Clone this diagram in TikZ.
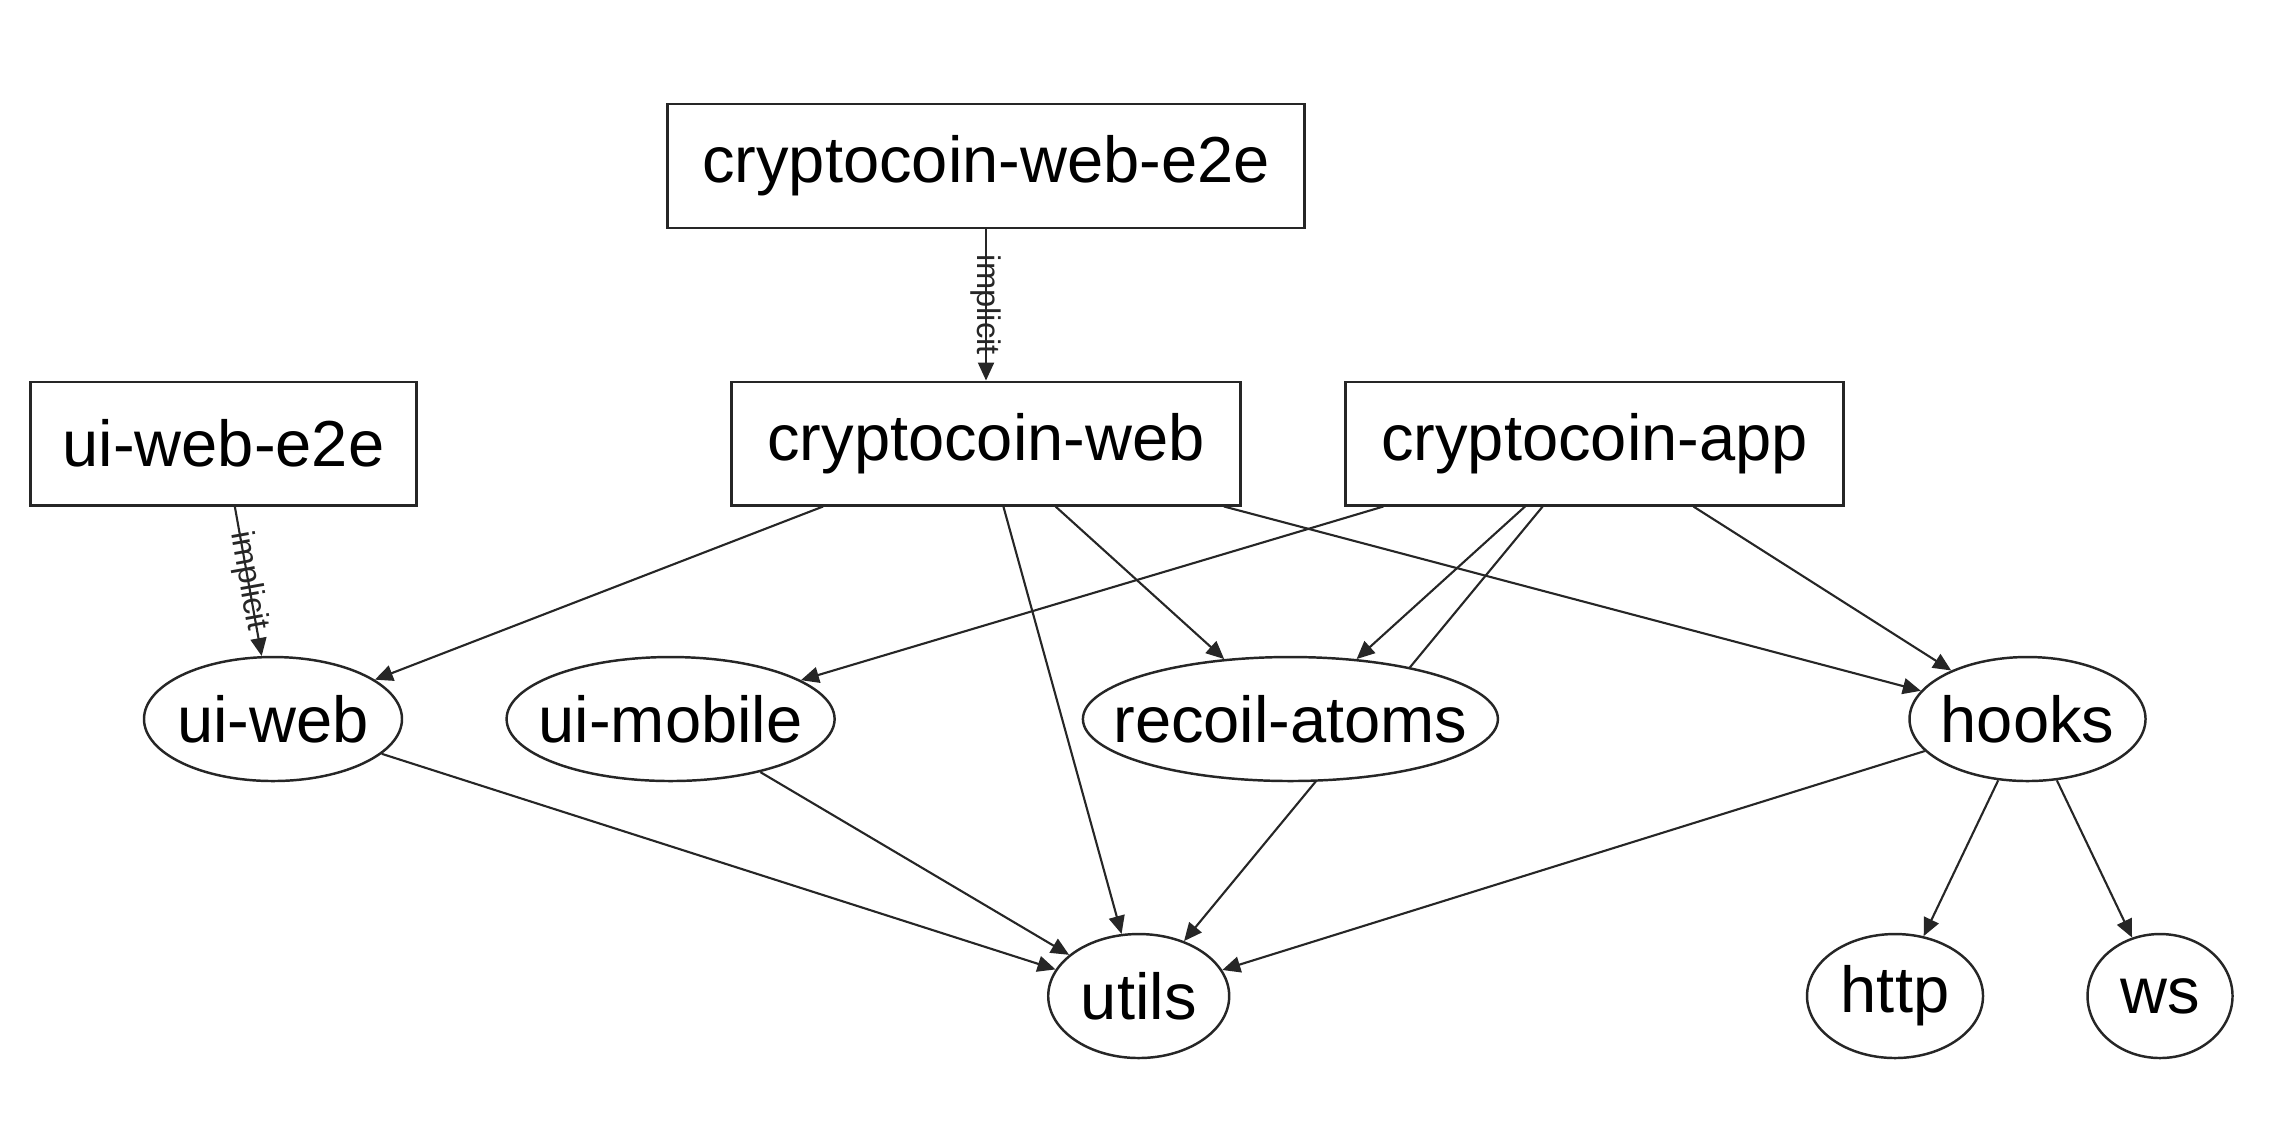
\documentclass[tikz,border=0pt]{standalone}
\usepackage{fontspec}
\setmainfont{Liberation Sans}
\usetikzlibrary{shapes.geometric,arrows.meta,backgrounds}

\begin{document}
\begin{tikzpicture}[
    pkg/.style={draw=black!85, line width=0.7pt, fill=white, font=\fontsize{18.5}{22}\selectfont},
    app/.style={pkg, rectangle, inner sep=0pt, minimum height=1.235cm},
    lib/.style={pkg, ellipse, inner xsep=-0.4cm, inner ysep=0pt, minimum height=1.24cm},
    dep/.style={-{Triangle[length=1.8mm,width=1.6mm]}, line width=0.6pt, black!85},
    tag/.style={midway, sloped, inner sep=0pt, font=\fontsize{9.3}{11}\selectfont}
]
\useasboundingbox (0,0) rectangle (22.76,-11.42);

% Apps
\node[app, minimum width=6.37cm] (webe2e) at (9.86,-1.66) {cryptocoin-web-e2e};
\node[app, minimum width=3.86cm] (uie2e) at (2.235,-4.435) {ui-web-e2e};
\node[app, minimum width=5.09cm] (web) at (9.86,-4.435) {cryptocoin-web};
\node[app, minimum width=4.98cm] (capp) at (15.945,-4.435) {cryptocoin-app};

% Libs
\node[lib, minimum width=2.58cm] (uiweb) at (2.73,-7.19) {ui-web};
\node[lib, minimum width=3.28cm] (uimobile) at (6.706,-7.19) {ui-mobile};
\node[lib, minimum width=4.15cm] (recoil) at (12.904,-7.19) {recoil-atoms};
\node[lib, minimum width=2.36cm] (hooks) at (20.275,-7.19) {hooks};
\node[lib, minimum width=1.81cm] (utils) at (11.387,-9.96) {utils};
\node[lib, minimum width=1.76cm] (http) at (18.95,-9.96) {http};
\node[lib, minimum width=1.45cm] (ws) at (21.6,-9.96) {ws};

% Implicit deps
\draw[dep] (webe2e) -- node[tag] {implicit} (web);
\draw[dep] (uie2e) -- node[tag] {implicit} (uiweb);

% cryptocoin-web
\draw[dep] (web) -- (uiweb);
\draw[dep] (web) -- (utils);
\draw[dep] (web) -- (recoil);
\draw[dep] (web) -- (hooks);

% cryptocoin-app
\draw[dep] (capp) -- (uimobile);
\draw[dep] (capp) -- (recoil);
\draw[dep] (capp) -- (hooks);
\begin{scope}[on background layer]
\draw[dep] (capp) -- (utils);
\end{scope}

% Libs
\draw[dep] (uiweb) -- (utils);
\draw[dep] (uimobile) -- (utils);
\draw[dep] (hooks) -- (utils);
\draw[dep] (hooks) -- (http);
\draw[dep] (hooks) -- (ws);

\end{tikzpicture}
\end{document}
